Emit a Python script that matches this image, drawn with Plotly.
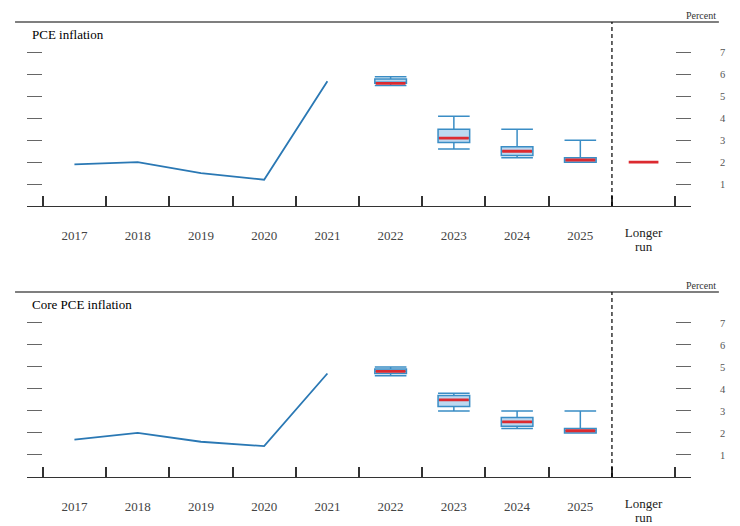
import plotly.graph_objects as go

# ---------------- data ----------------
categories = ["2017", "2018", "2019", "2020", "2021", "2022", "2023", "2024", "2025", "Longer run"]
hist_cats = ["2017", "2018", "2019", "2020", "2021"]
proj_cats = ["2022", "2023", "2024", "2025"]

pce_hist = [1.9, 2.0, 1.5, 1.2, 5.7]
pce_low = [5.5, 2.6, 2.2, 2.0]
pce_q1 = [5.6, 2.9, 2.3, 2.0]
pce_med = [5.6, 3.1, 2.5, 2.1]
pce_q3 = [5.8, 3.5, 2.7, 2.2]
pce_high = [5.9, 4.1, 3.5, 3.0]
pce_longer_run = 2.0

core_hist = [1.7, 2.0, 1.6, 1.4, 4.7]
core_low = [4.6, 3.0, 2.2, 2.0]
core_q1 = [4.7, 3.2, 2.3, 2.0]
core_med = [4.8, 3.5, 2.5, 2.1]
core_q3 = [4.9, 3.7, 2.7, 2.2]
core_high = [5.0, 3.8, 3.0, 3.0]

y_ticks = [1, 2, 3, 4, 5, 6, 7]
panel_titles = ["PCE inflation", "Core PCE inflation"]
unit_label = "Percent"

# ---------------- helpers ----------------
pos = {c: i for i, c in enumerate(categories)}
hist_x = [pos[c] for c in hist_cats]
proj_x = [pos[c] for c in proj_cats]
lr_x = pos["Longer run"]
boundaries = [i - 0.5 for i in range(len(categories) + 1)]
x_range = [-0.75, len(categories) - 0.25]
y_range = [0, 8.4]
single_vals = [i for i, c in enumerate(categories) if " " not in c]
single_text = [categories[i] for i in single_vals]
multi_vals = [i for i, c in enumerate(categories) if " " in c]
multi_first = [categories[i].split(" ")[0] for i in multi_vals]
multi_second = [" ".join(categories[i].split(" ")[1:]) for i in multi_vals]

SERIF = "Liberation Serif, Times New Roman, serif"
LINE_BLUE = "#2a78b4"
BOX_EDGE = "#3a8dc5"
BOX_FILL = "#bdd9f0"
MED_RED = "#dc2a30"
AXIS = "#333333"

fig = go.Figure()

panels = [
    dict(hist=pce_hist, low=pce_low, q1=pce_q1, med=pce_med, q3=pce_q3, high=pce_high,
         lr=pce_longer_run, xa="x", ya="y", yl="y3", labels=["x3", "x5", "x7"]),
    dict(hist=core_hist, low=core_low, q1=core_q1, med=core_med, q3=core_q3, high=core_high,
         lr=None, xa="x2", ya="y2", yl="y4", labels=["x4", "x6", "x8"]),
]

for p in panels:
    fig.add_trace(go.Scatter(x=hist_x, y=p["hist"], mode="lines",
                             line=dict(color=LINE_BLUE, width=1.8),
                             xaxis=p["xa"], yaxis=p["ya"], showlegend=False, hoverinfo="skip"))
    fig.add_trace(go.Box(x=proj_x, q1=p["q1"], median=p["med"], q3=p["q3"],
                         lowerfence=p["low"], upperfence=p["high"],
                         width=0.5, whiskerwidth=1, fillcolor=BOX_FILL,
                         line=dict(color=BOX_EDGE, width=1.5), boxpoints=False,
                         xaxis=p["xa"], yaxis=p["ya"], showlegend=False, hoverinfo="skip"))
    mx = list(proj_x)
    my = list(p["med"])
    if p["lr"] is not None:
        mx.append(lr_x)
        my.append(p["lr"])
    fig.add_trace(go.Box(x=mx, q1=my, median=my, q3=my, lowerfence=my, upperfence=my,
                         width=0.47, whiskerwidth=0, fillcolor="rgba(0,0,0,0)",
                         line=dict(color=MED_RED, width=2.8), boxpoints=False,
                         xaxis=p["xa"], yaxis=p["ya"], showlegend=False, hoverinfo="skip"))
    # dummy traces for label axes
    for xl in p["labels"]:
        fig.add_trace(go.Scatter(x=[None], y=[None], mode="markers", xaxis=xl, yaxis=p["ya"],
                                 showlegend=False, hoverinfo="skip"))
    fig.add_trace(go.Scatter(x=[None], y=[None], mode="markers", xaxis=p["xa"], yaxis=p["yl"],
                             showlegend=False, hoverinfo="skip"))

tick_axis = dict(
    range=x_range, showline=True, linecolor=AXIS, linewidth=1.3, automargin=False,
    tickmode="array", tickvals=x_range, ticktext=["", ""], ticks="inside",
    ticklen=13, tickwidth=1.3, tickcolor=AXIS, showticklabels=False,
    showgrid=False, zeroline=False,
    minor=dict(tickmode="array", tickvals=boundaries, ticks="inside", ticklen=10,
               tickwidth=1.5, tickcolor=AXIS, showgrid=False),
)


def label_axis(vals, text, standoff, color):
    return dict(
        range=x_range, showline=False, showgrid=False, zeroline=False, ticks="",
        automargin=False, tickmode="array", tickvals=vals, ticktext=text,
        tickfont=dict(family=SERIF, size=13, color=color), ticklabelstandoff=standoff,
        side="bottom",
    )


# dash marks on both edges (no labels)
y_axis = dict(
    range=y_range, side="right", tickmode="array", tickvals=y_ticks, automargin=False,
    ticks="inside", ticklen=15, tickwidth=1, tickcolor="#666666", mirror="ticks",
    showline=False, showgrid=False, zeroline=False, showticklabels=False,
)
# labels on the right, pushed out by transparent outside ticks
y_label_axis = dict(
    range=y_range, side="right", tickmode="array", tickvals=y_ticks, automargin=False,
    ticks="outside", ticklen=26, tickcolor="rgba(0,0,0,0)",
    showline=False, showgrid=False, zeroline=False,
    tickfont=dict(family=SERIF, size=10.5, color="#555555"),
)

top_dom = [0.5956, 1.0]
bot_dom = [0.0, 0.4066]

layout_axes = {}
for p, num, dom in zip(panels, ["", "2"], [top_dom, bot_dom]):
    layout_axes["xaxis" + num] = dict(**tick_axis, anchor=p["ya"])
    layout_axes["yaxis" + num] = dict(**y_axis, domain=dom, anchor=p["xa"])
    layout_axes["yaxis" + p["yl"][1:]] = dict(**y_label_axis, anchor=p["xa"], overlaying=p["ya"])
    a1, a2, a3 = p["labels"]
    layout_axes["xaxis" + a1[1:]] = dict(**label_axis(single_vals, single_text, 20, "#444444"),
                                         anchor=p["ya"], overlaying=p["xa"])
    layout_axes["xaxis" + a2[1:]] = dict(**label_axis(multi_vals, multi_first, 17, "#222222"),
                                         anchor=p["ya"], overlaying=p["xa"])
    layout_axes["xaxis" + a3[1:]] = dict(**label_axis(multi_vals, multi_second, 31, "#222222"),
                                         anchor=p["ya"], overlaying=p["xa"])

fig.update_layout(
    width=740, height=526,
    margin=dict(l=27, r=49, t=22, b=49, autoexpand=False),
    paper_bgcolor="white", plot_bgcolor="white",
    boxmode="overlay",
    **layout_axes,
)

shapes = []
annotations = []
for (xa, ya), title in zip([("x", "y"), ("x2", "y2")], panel_titles):
    shapes.append(dict(type="line", xref="paper", yref=f"{ya} domain",
                       x0=-0.018, x1=1.042, y0=1, y1=1,
                       line=dict(color="#555555", width=1.3)))
    shapes.append(dict(type="line", xref=xa, yref=f"{ya} domain",
                       x0=pos["Longer run"] - 0.5, x1=pos["Longer run"] - 0.5, y0=0, y1=1,
                       line=dict(color="black", width=1.2, dash="4px,3px")))
    annotations.append(dict(text=title, xref="paper", yref=f"{ya} domain",
                            x=0.0045, y=0.93, xanchor="left", yanchor="middle",
                            showarrow=False, font=dict(family=SERIF, size=13, color="black")))
    annotations.append(dict(text=unit_label, xref="paper", yref=f"{ya} domain",
                            x=1.0407, y=1.033, xanchor="right", yanchor="middle",
                            showarrow=False, font=dict(family=SERIF, size=10, color="#333333")))

fig.update_layout(shapes=shapes, annotations=annotations)

fig.write_html("out.html", config={"displayModeBar": False},
               post_script="document.body.style.margin='0';document.body.style.overflow='hidden';")
